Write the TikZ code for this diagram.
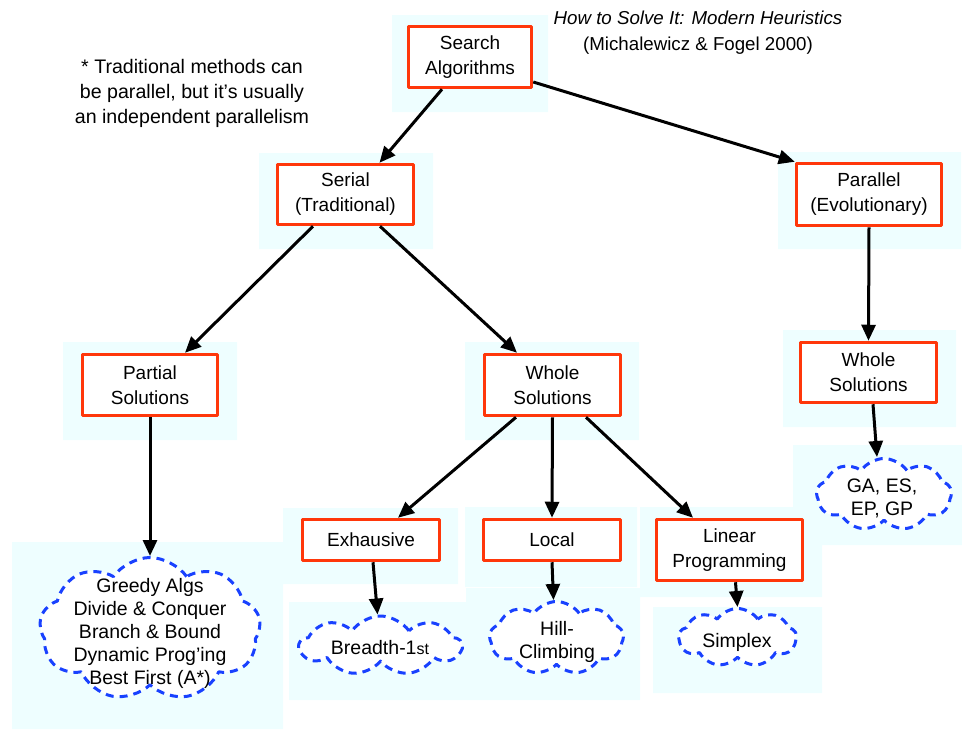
\documentclass[tikz,border=0pt]{standalone}
\usepackage{fontspec}
\setmainfont{Liberation Sans}
\usetikzlibrary{arrows.meta,shapes.symbols}
\definecolor{boxred}{RGB}{255,55,10}
\definecolor{cloudblue}{RGB}{25,65,255}
\definecolor{panecyan}{RGB}{238,254,255}

\begin{document}
\begin{tikzpicture}[x=1pt,y=-1pt,join=round, % Search algorithm taxonomy
    algbox/.style={draw=boxred,line width=3.5pt,fill=white,inner sep=0pt,align=center,
        font=\fontsize{19}{25}\selectfont},
    leaf/.style={cloud,cloud puffs=9,cloud puff arc=110,cloud ignores aspect,draw=cloudblue,
        line width=3pt,dash pattern=on 8pt off 6pt,fill=white,inner sep=0pt},
    leaftext/.style={align=center,inner sep=0pt,font=\fontsize{19.5}{23}\selectfont},
    link/.style={line width=3pt,-{Triangle[length=16pt,width=14pt]}}]
       \useasboundingbox (0,0) rectangle (962,729);
       \fill[panecyan]
                (392,15) rectangle (548,112)
                (259,153) rectangle (433,249)
                (778,152) rectangle (961,249)
                (63,342) rectangle (237,440)
                (465,342) rectangle (639,440)
                (783,330) rectangle (956,427)
                (283,508) rectangle (458,584)
                (289,602) rectangle (468,700)
                (465,507) rectangle (637,587)
                (466,588) rectangle (640,700)
                (640,507) rectangle (822,597)
                (653,607) rectangle (822,693)
                (793,445) rectangle (962,545)
                (12,542) rectangle (283,729);
       \node[align=center,inner sep=0pt,font=\fontsize{18.7}{26}\selectfont] (src) at (698,33)
                {\itshape How to Solve It: Modern Heuristics\\(Michalewicz \& Fogel 2000)};
       \node[align=center,inner sep=0pt,font=\fontsize{19.6}{25}\selectfont] (note) at (192,93)
                {* Traditional methods can\\be parallel, but it's usually\\an independent parallelism};
       % boxes
       \node[algbox,minimum width=123pt,minimum height=61pt] (search) at (470,57) {Search\\Algorithms};
       \node[algbox,minimum width=136pt,minimum height=60pt] (serial) at (345.5,194.5) {Serial\\(Traditional)};
       \node[algbox,minimum width=145pt,minimum height=62pt] (parallel) at (869,194.5) {Parallel\\(Evolutionary)};
       \node[algbox,minimum width=135pt,minimum height=61pt] (partial) at (150,385) {Partial\\Solutions};
       \node[algbox,minimum width=136pt,minimum height=61pt] (whole) at (552.5,385) {Whole\\Solutions};
       \node[algbox,minimum width=136pt,minimum height=60pt] (wholer) at (868.5,372.5) {Whole\\Solutions};
       \node[algbox,minimum width=137pt,minimum height=41pt] (exhaust) at (371,540) {Exhausive};
       \node[algbox,minimum width=137pt,minimum height=41pt] (local) at (552,540) {Local};
       \node[algbox,minimum width=146pt,minimum height=61pt] (linear) at (729.5,550) {Linear\\Programming};
       % clouds
       \node[leaf,minimum width=221pt,minimum height=143pt] (greedy) at (150,629) {};
       \node[leaf,minimum width=162pt,minimum height=59pt] (breadth) at (380.5,645.5) {};
       \node[leaf,minimum width=134pt,minimum height=73pt] (hill) at (556.5,638) {};
       \node[leaf,minimum width=118pt,minimum height=58pt] (simplex) at (737.5,637.5) {};
       \node[leaf,minimum width=135pt,minimum height=72pt] (ga) at (884,494.5) {};
       \node[leaftext] (greedy-t) at (150,633)
                {Greedy Algs\\Divide \& Conquer\\Branch \& Bound\\Dynamic Prog'ing\\Best First (A*)};
       \node[leaftext] (breadth-t) at (380,648) {Breadth-1{\fontsize{16}{16}\selectfont st}};
       \node[leaftext] (hill-t) at (557,642) {Hill-\\Climbing};
       \node[leaftext] (simplex-t) at (737,642) {Simplex};
       \node[leaftext] (ga-t) at (882,498) {GA, ES,\\EP, GP};
       % arrows
       \draw[link] ([xshift=-28pt]search.south) -- ([xshift=34pt]serial.north);
       \draw[link] ([yshift=-25pt]search.east) -- (parallel.north west);
       \draw[link] ([xshift=-32.5pt]serial.south) -- ([xshift=35pt]partial.north);
       \draw[link] ([xshift=34.5pt]serial.south) -- ([xshift=-35.5pt]whole.north);
       \draw[link] (parallel.south) -- (wholer.north);
       \draw[link] (partial.south) -- (greedy.north);
       \draw[link] ([xshift=-36.5pt]whole.south) -- ([xshift=27pt]exhaust.north);
       \draw[link] (whole.south) -- (local.north);
       \draw[link] ([xshift=33.5pt]whole.south) -- ([xshift=-36.5pt]linear.north);
       \draw[link] ([xshift=2pt]exhaust.south) -- ([xshift=-3pt]breadth.north);
       \draw[link] (local.south) -- ([xshift=-3pt]hill.north);
       \draw[link] ([xshift=6pt]linear.south) -- (simplex.north);
       \draw[link] ([xshift=4.5pt]wholer.south) -- ([xshift=-7pt]ga.north);
    \end{tikzpicture}
\end{document}
